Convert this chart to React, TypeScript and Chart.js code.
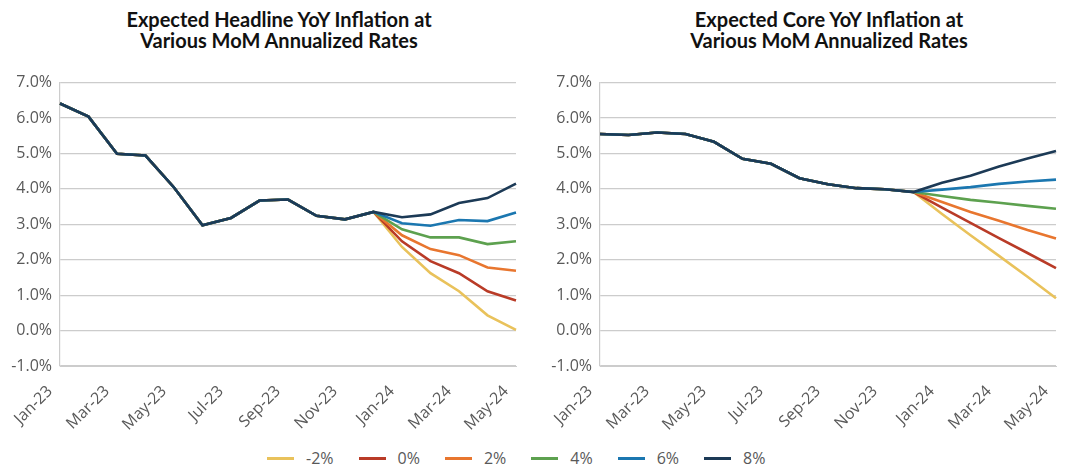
import React, { useEffect, useRef } from "react";
import { Chart, registerables } from "chart.js";

Chart.register(...registerables);

const months = [
  "Jan-23", "Feb-23", "Mar-23", "Apr-23", "May-23", "Jun-23", "Jul-23", "Aug-23",
  "Sep-23", "Oct-23", "Nov-23", "Dec-23", "Jan-24", "Feb-24", "Mar-24", "Apr-24", "May-24",
];
const rates = ["-2%", "0%", "2%", "4%", "6%", "8%"];
const colors = ["#E9C25B", "#B93B27", "#E8762F", "#5DA14F", "#1B77B0", "#1C3A56"];
const yTicks = [-1, 0, 1, 2, 3, 4, 5, 6, 7];

// Headline YoY inflation (%), history Jan-23..Dec-23
const headlineHistory = [6.41, 6.04, 4.99, 4.94, 4.04, 2.97, 3.18, 3.67, 3.70, 3.24, 3.14, 3.35];
// Projections Jan-24..May-24 per MoM annualized rate
const headlineM2 = [2.36, 1.62, 1.11, 0.43, 0.02];
const headline0 = [2.52, 1.96, 1.62, 1.11, 0.85];
const headline2 = [2.69, 2.30, 2.13, 1.78, 1.69];
const headline4 = [2.86, 2.63, 2.63, 2.44, 2.52];
const headline6 = [3.03, 2.96, 3.12, 3.09, 3.33];
const headline8 = [3.20, 3.28, 3.60, 3.74, 4.15];

// Core YoY inflation (%), history Jan-23..Dec-23
const coreHistory = [5.55, 5.52, 5.59, 5.55, 5.33, 4.85, 4.71, 4.30, 4.13, 4.02, 3.99, 3.91];
const coreM2 = [3.29, 2.69, 2.11, 1.52, 0.91];
const core0 = [3.47, 3.04, 2.61, 2.19, 1.76];
const core2 = [3.63, 3.35, 3.10, 2.84, 2.60];
const core4 = [3.80, 3.69, 3.61, 3.52, 3.44];
const core6 = [3.98, 4.05, 4.14, 4.21, 4.26];
const core8 = [4.17, 4.37, 4.63, 4.86, 5.07];

const TICK_FONT = { family: "'Open Sans', sans-serif", size: 16 };
const TEXT_COLOR = "#595959";
const GRID_COLOR = "#cccccc";

type LineProps = {
  history: number[];
  projections: number[][];
  left: number;
  width: number;
  yAxisWidth: number;
  padRight: number;
};

function LineChart({ history, projections, left, width, yAxisWidth, padRight }: LineProps) {
  const ref = useRef<HTMLCanvasElement | null>(null);
  useEffect(() => {
    if (!ref.current) return;
    const chart = new Chart(ref.current, {
      type: "line",
      data: {
        labels: months,
        datasets: rates.map((r, i) => ({
          label: r,
          data: [...history, ...projections[i]],
          borderColor: colors[i],
          backgroundColor: colors[i],
          borderWidth: 2.6,
          pointRadius: 0,
          tension: 0,
          fill: false,
          order: rates.length - i,
        })),
      },
      options: {
        animation: false,
        responsive: true,
        maintainAspectRatio: false,
        layout: { padding: { top: 12, right: padRight, left: 0, bottom: 0 } },
        plugins: { legend: { display: false }, tooltip: { enabled: false }, title: { display: false } },
        scales: {
          x: {
            type: "category",
            offset: false,
            grid: { display: false, drawTicks: false },
            border: { display: true, color: GRID_COLOR, width: 1 },
            ticks: {
              autoSkip: false,
              maxRotation: 45,
              minRotation: 45,
              padding: 16,
              labelOffset: -10,
              color: TEXT_COLOR,
              font: TICK_FONT,
              callback: (_v: any, i: number) => (i % 2 === 0 ? months[i] : ""),
            },
            afterFit: (s: any) => {
              s.height = 70;
              s.paddingLeft = 0;
              s.paddingRight = 0;
            },
          },
          y: {
            min: yTicks[0],
            max: yTicks[yTicks.length - 1],
            afterBuildTicks: (s: any) => {
              s.ticks = yTicks.map((v) => ({ value: v }));
            },
            ticks: {
              padding: 8,
              color: TEXT_COLOR,
              font: TICK_FONT,
              callback: (v: any) => Number(v).toFixed(1) + "%",
            },
            grid: { color: GRID_COLOR, lineWidth: 1.2, drawTicks: false },
            border: { display: true, color: GRID_COLOR, width: 1.2 },
            afterFit: (s: any) => {
              s.width = yAxisWidth;
            },
          },
        },
      },
    });
    return () => chart.destroy();
  }, []);
  return (
    <div style={{ position: "absolute", left, top: 57, width, height: 371 }}>
      <canvas ref={ref} />
    </div>
  );
}

const titleStyle: React.CSSProperties = {
  position: "absolute",
  top: 1,
  width: 440,
  textAlign: "center",
  fontFamily: "Lato, sans-serif",
  fontWeight: 700,
  fontSize: 20,
  lineHeight: "21px",
  color: "#111111",
};

export default function App() {
  return (
    <div style={{ position: "relative", width: 1057, height: 463, background: "#fff" }}>
      <div style={{ ...titleStyle, left: 271 - 220 }}>
        Expected Headline YoY Inflation at
        <br />
        Various MoM Annualized Rates
      </div>
      <div style={{ ...titleStyle, left: 821 - 220 }}>
        Expected Core YoY Inflation at
        <br />
        Various MoM Annualized Rates
      </div>
      <LineChart
        history={headlineHistory}
        projections={[headlineM2, headline0, headline2, headline4, headline6, headline8]}
        left={0}
        width={532}
        yAxisWidth={52}
        padRight={24}
      />
      <LineChart
        history={coreHistory}
        projections={[coreM2, core0, core2, core4, core6, core8]}
        left={540}
        width={517}
        yAxisWidth={52}
        padRight={9}
      />
      <div
        style={{
          position: "absolute",
          left: 259,
          top: 441,
          display: "flex",
          alignItems: "center",
          fontFamily: "'Open Sans', sans-serif",
          fontSize: 16,
          color: TEXT_COLOR,
          lineHeight: "18px",
        }}
      >
        {rates.map((r, i) => (
          <div key={r} style={{ display: "flex", alignItems: "center", marginRight: 25 }}>
            <div style={{ width: 27, height: 3, background: colors[i], marginRight: 12 }} />
            <span>{r}</span>
          </div>
        ))}
      </div>
    </div>
  );
}
